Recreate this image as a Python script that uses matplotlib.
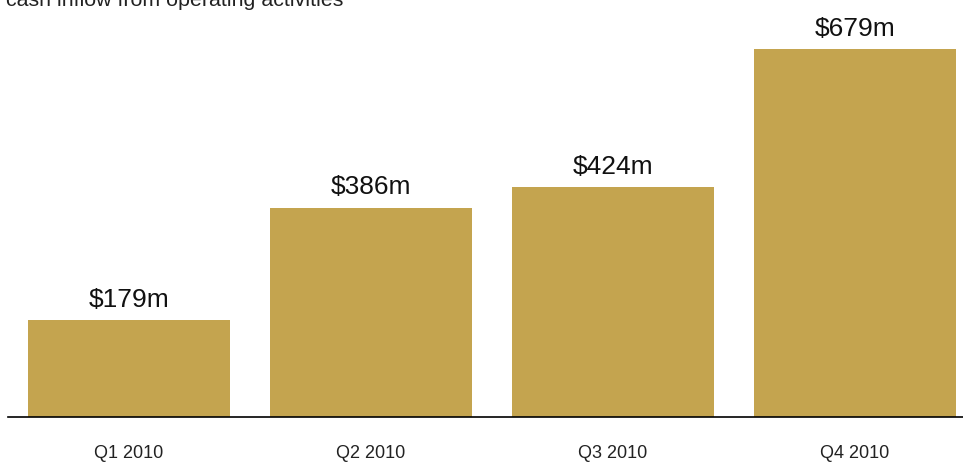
import matplotlib
matplotlib.use("Agg")
import matplotlib.pyplot as plt

plt.rcParams['font.family'] = ['Liberation Sans', 'DejaVu Sans']

# data
quarters = ["Q1 2010", "Q2 2010", "Q3 2010", "Q4 2010"]
cash_inflow = [179, 386, 424, 679]
value_labels = ["$179m", "$386m", "$424m", "$679m"]
title = "cash inflow from operating activities"

bar_color = "#C4A44F"

fig = plt.figure(figsize=(9.63, 4.63), dpi=100)
W, H = 963.0, 463.0
ax = fig.add_axes([8 / W, (H - 417) / H, 1 - 8 / W, (417 - 5) / H])

x = range(len(quarters))
bars = ax.bar(x, cash_inflow, width=0.835, color=bar_color, zorder=2)

for b, lab in zip(bars, value_labels):
    ax.annotate(lab, (b.get_x() + b.get_width() / 2, b.get_height()),
                xytext=(0, 6), textcoords="offset points",
                ha="center", va="bottom", fontsize=19, color="#111111")

ax.set_xlim(-0.5, 3.447)
ax.set_ylim(0, 760)
ax.set_xticks(list(x))
ax.set_xticklabels(quarters, fontsize=13, color="#222222")
ax.tick_params(axis="x", length=0, pad=20)
ax.set_yticks([])

for s in ["top", "right", "left"]:
    ax.spines[s].set_visible(False)
ax.spines["bottom"].set_linewidth(1.2)
ax.spines["bottom"].set_color("black")

fig.text(6 / W, 1 - 6 / H, title, fontsize=15.4, ha="left", va="baseline",
         color="#222222")

fig.savefig("out.png", dpi=100, facecolor="white")
